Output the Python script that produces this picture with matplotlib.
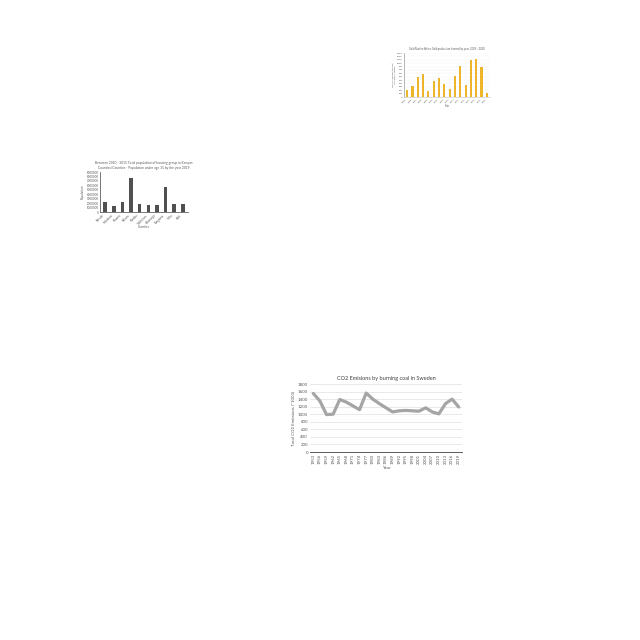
import matplotlib
matplotlib.use("Agg")
import matplotlib.pyplot as plt

plt.rcParams['font.family'] = ['Lato', 'DejaVu Sans']

# top right chart - yearly bars
bar_years = [str(y) for y in range(2005, 2021)]
bar_vals = [220, 320, 580, 670, 180, 470, 570, 380, 230, 620, 930, 350, 1100, 1130, 880, 130]

# middle left chart - population by county
counties = ['Nairobi', 'Mombasa', 'Kisumu', 'Nakuru', 'Kiambu', 'Machakos',
            'Kakamega', 'Bungoma', 'Meru', 'Kilifi']
pop_vals = [2200000, 1400000, 2200000, 7600000, 1750000, 1600000, 1600000,
            5600000, 1900000, 1900000]

# bottom chart - CO2 from coal in Sweden
co2_years = [str(y) for y in range(1953, 2020, 3)]
co2_vals = [1550, 1350, 990, 1000, 1390, 1320, 1220, 1120, 1560, 1400, 1280, 1170,
            1060, 1090, 1100, 1090, 1080, 1170, 1060, 1010, 1280, 1400, 1190]

W = 640.0
fig = plt.figure(figsize=(6.4, 6.4), dpi=100)


def box(x0, y0, x1, y1):
    return [x0 / W, 1 - y1 / W, (x1 - x0) / W, (y1 - y0) / W]


# ---- top right
ax1 = fig.add_axes(box(404, 53, 490, 97))
ax1.bar(range(len(bar_vals)), bar_vals, width=0.38, color='#EDB52A')
ax1.set_xlim(-0.6, len(bar_vals) - 0.4)
ax1.set_ylim(0, 1300)
ax1.set_yticks(range(0, 1301, 100))
ax1.set_xticks(range(len(bar_years)))
ax1.set_xticklabels(bar_years, rotation=45, ha='right')
ax1.tick_params(labelsize=1.7, length=0, pad=1, colors='#595959')
ax1.grid(axis='y', color='#EEEEEE', lw=0.3)
ax1.set_axisbelow(True)
for s in ['top', 'right']:
    ax1.spines[s].set_visible(False)
ax1.spines['left'].set_color('#7F7F7F')
ax1.spines['bottom'].set_color('#BFBFBF')
ax1.spines['left'].set_linewidth(0.4)
ax1.spines['bottom'].set_linewidth(0.4)
ax1.set_title('Gold Rush in Africa: Gold production (tonnes) by year, 2005 - 2020',
              fontsize=1.9, color='#595959', pad=2)
ax1.set_xlabel('Year', fontsize=1.8, color='#595959', labelpad=1)
ax1.set_ylabel('Gold production (tonnes)\nTotal annual output', fontsize=1.6,
               color='#595959', labelpad=1)

# ---- middle left
ax2 = fig.add_axes(box(100, 172, 188, 212))
ax2.bar(range(len(pop_vals)), pop_vals, width=0.4, color='#505050')
ax2.set_xlim(-0.6, len(pop_vals) - 0.4)
ax2.set_ylim(0, 9000000)
ax2.set_yticks(range(0, 9000001, 1000000))
ax2.ticklabel_format(axis='y', style='plain')
ax2.set_xticks(range(len(counties)))
ax2.set_xticklabels(counties, rotation=45, ha='right')
ax2.tick_params(labelsize=2.1, length=0, pad=1, colors='#595959')
for s in ['top', 'right']:
    ax2.spines[s].set_visible(False)
ax2.spines['left'].set_color('#404040')
ax2.spines['bottom'].set_color('#404040')
ax2.spines['left'].set_linewidth(0.5)
ax2.spines['bottom'].set_linewidth(0.5)
ax2.set_title('Between 2010 - 2015 Total population of housing group in Kenyan\n'
              'Counties/Counties - Population under age 15 by the year 2019',
              fontsize=2.3, color='#595959', pad=2, linespacing=1.3)
ax2.set_xlabel('Counties', fontsize=2.2, color='#595959', labelpad=0)
ax2.set_ylabel('Population', fontsize=2.2, color='#595959', labelpad=1)

# ---- bottom
ax3 = fig.add_axes(box(310, 384, 462, 452))
ax3.plot(range(len(co2_vals)), co2_vals, color='#A5A5A5', lw=2.3,
         solid_joinstyle='round', solid_capstyle='round')
ax3.set_xlim(-0.5, len(co2_vals) - 0.5)
ax3.set_ylim(0, 1800)
ax3.set_yticks(range(0, 1801, 200))
ax3.set_xticks(range(len(co2_years)))
ax3.set_xticklabels(co2_years, rotation=90)
ax3.tick_params(labelsize=3.2, length=0, pad=1.5, colors='#595959')
ax3.grid(axis='y', color='#D9D9D9', lw=0.4)
ax3.set_axisbelow(True)
for s in ['top', 'right', 'left']:
    ax3.spines[s].set_visible(False)
ax3.spines['bottom'].set_color('#404040')
ax3.spines['bottom'].set_linewidth(0.6)
ax3.set_title('CO2 Emisions by burning coal in Sweden', fontsize=4.0,
              color='#404040', pad=3)
ax3.set_xlabel('Year', fontsize=3.2, color='#595959', labelpad=1.5)
ax3.set_ylabel('Total CO2 Emissions (*1000)', fontsize=3.2, color='#595959',
               labelpad=1.5)

fig.savefig('out.png', dpi=100)
